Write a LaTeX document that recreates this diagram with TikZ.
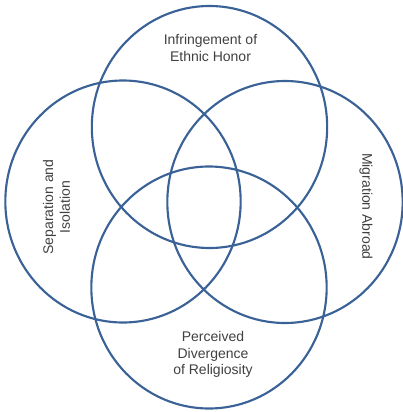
\documentclass[tikz,border=0pt]{standalone}
\usepackage{fontspec}
\setmainfont{Liberation Sans}
\usetikzlibrary{shapes.geometric}
\definecolor{ring}{HTML}{3A6296}
\definecolor{txt}{HTML}{404040}
\begin{document}
\begin{tikzpicture}[x=0.75pt,y=-0.75pt,
  ring/.style={draw=ring,line width=1.6pt,ellipse,inner sep=0pt,minimum width=176.5pt,minimum height=181.5pt},
  lbl/.style={text=txt,align=center,font=\fontsize{10.5pt}{12.6pt}\selectfont,inner sep=0pt}]
\useasboundingbox (0,0) rectangle (403,412);
\node[ring] (top) at (209.5,127) {};
\node[ring] (left) at (123,201.5) {};
\node[ring] (right) at (285,202) {};
\node[ring] (bottom) at (209,287.5) {};
\node[lbl] (ttop) at (210.5,48) {Infringement of\\Ethnic Honor};
\node[lbl,rotate=90] (tleft) at (56.5,207) {Separation and\\Isolation};
\node[lbl,rotate=-90] (tright) at (366,206.5) {Migration Abroad};
\node[lbl] (tbottom) at (213,354.5) {Perceived\\Divergence\\of Religiosity};
\end{tikzpicture}
\end{document}
